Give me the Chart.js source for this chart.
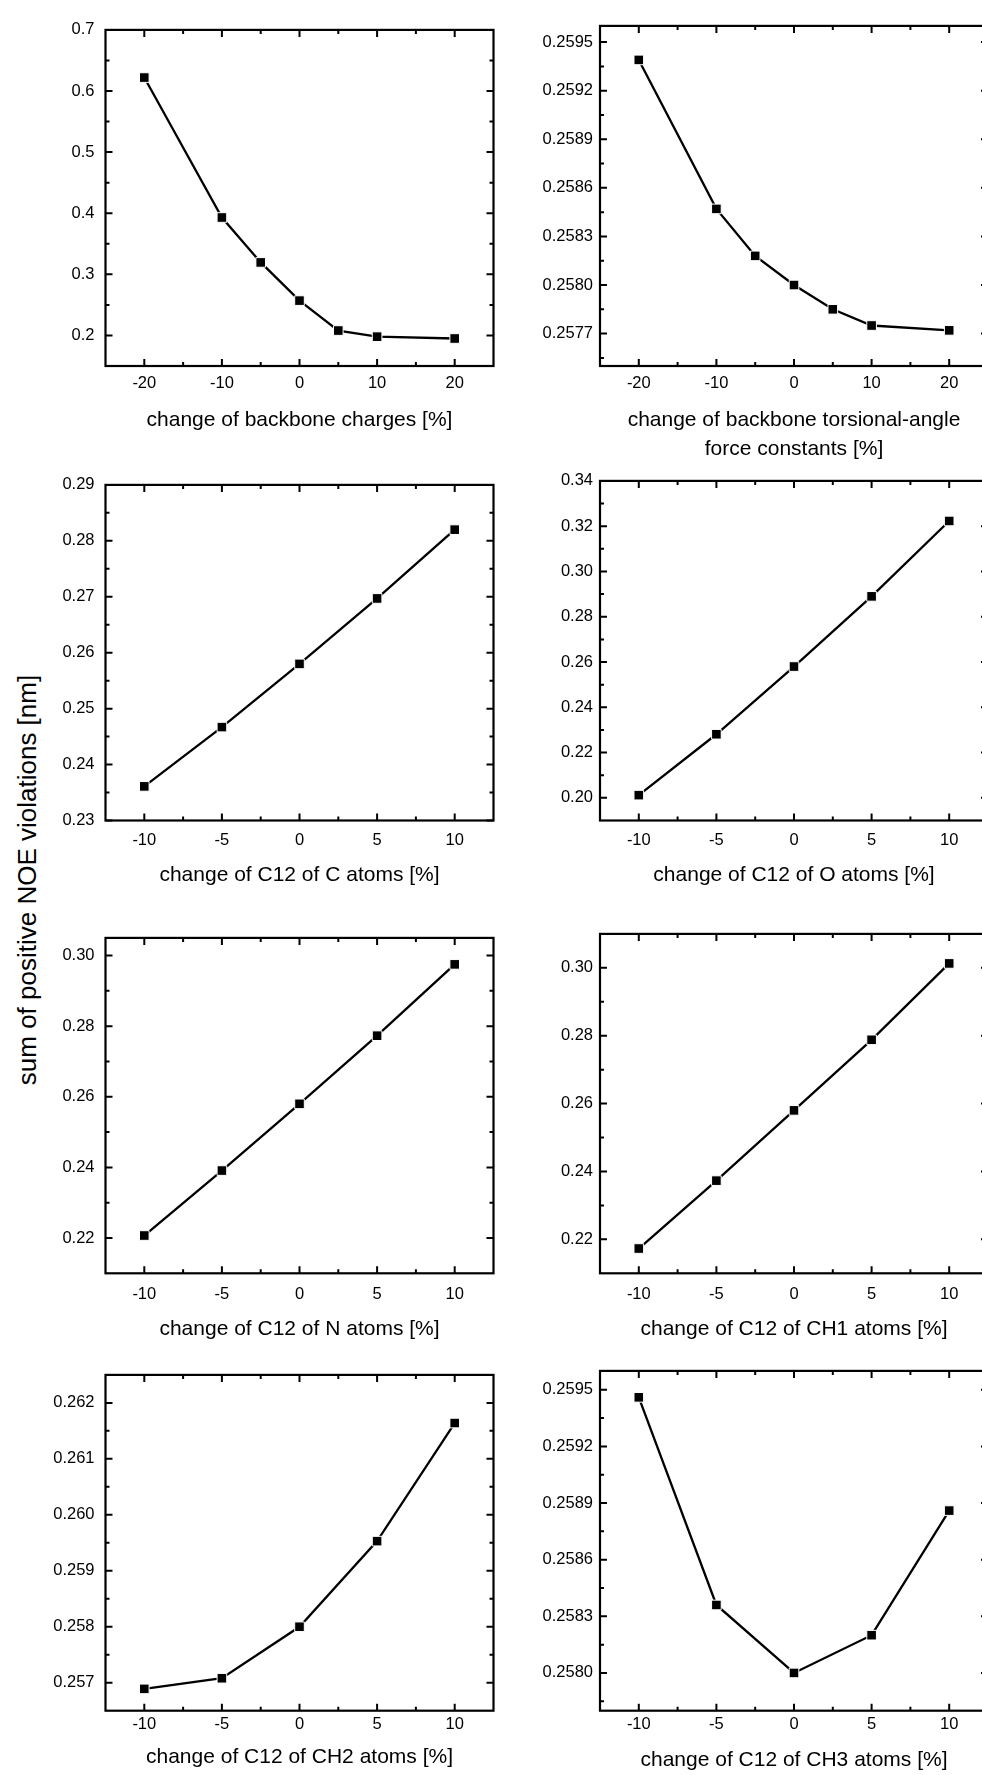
<!DOCTYPE html>
<html>
<head>
<meta charset="utf-8">
<script src="https://cdn.jsdelivr.net/npm/chart.js@4.4.1/dist/chart.umd.min.js"></script>
<style>
  html, body { margin: 0; padding: 0; background: #fff; }
  body { width: 982px; height: 1775px; position: relative; overflow: hidden; font-family: "Liberation Sans", Arial, sans-serif; }
  canvas { position: absolute; }
  #ytitle { position: absolute; left: 27px; top: 880px; transform: translate(-50%, -50%) rotate(-90deg); white-space: nowrap; font-size: 26px; color: #000; }
</style>
</head>
<body>
<div id="ytitle">sum of positive NOE violations [nm]</div>
<script>
// x values: change of the parameter [%]
const changeWide = [-20, -10, -5, 0, 5, 10, 20];
const changeNarrow = [-10, -5, 0, 5, 10];

// sum of positive NOE violations [nm]
const backboneCharges = [0.622, 0.393, 0.3195, 0.257, 0.208, 0.198, 0.195];
const torsionForce = [0.25939, 0.25847, 0.25818, 0.25800, 0.25785, 0.25775, 0.25772];
const c12C = [0.2361, 0.2467, 0.2580, 0.2697, 0.2820];
const c12O = [0.2012, 0.2281, 0.2580, 0.2890, 0.3223];
const c12N = [0.2207, 0.2391, 0.2580, 0.2773, 0.2975];
const c12CH1 = [0.2173, 0.2373, 0.2580, 0.2788, 0.3013];
const c12CH2 = [0.25689, 0.25708, 0.25800, 0.25953, 0.26164];
const c12CH3 = [0.25946, 0.25836, 0.25800, 0.25820, 0.25886];

// tick labels
const xTicksWide = [-20, -10, 0, 10, 20];
const xTicksNarrow = [-10, -5, 0, 5, 10];
const yTicksCharges = [0.2, 0.3, 0.4, 0.5, 0.6, 0.7];
const yTicksTorsion = [0.2577, 0.2580, 0.2583, 0.2586, 0.2589, 0.2592, 0.2595];
const yTicksC = [0.23, 0.24, 0.25, 0.26, 0.27, 0.28, 0.29];
const yTicksO = [0.20, 0.22, 0.24, 0.26, 0.28, 0.30, 0.32, 0.34];
const yTicksN = [0.22, 0.24, 0.26, 0.28, 0.30];
const yTicksCH1 = [0.22, 0.24, 0.26, 0.28, 0.30];
const yTicksCH2 = [0.257, 0.258, 0.259, 0.260, 0.261, 0.262];
const yTicksCH3 = [0.2580, 0.2583, 0.2586, 0.2589, 0.2592, 0.2595];

const FONT = '"Liberation Sans", Arial, Helvetica, sans-serif';
Chart.defaults.font.family = FONT;
Chart.defaults.color = '#000';

// plot-box geometry
const cols = [
    { left: 105.5, right: 493.5, labelGap: 11 },
    { left: 600, right: 988, labelGap: 7 }
];
const rows = [
    { top: 23.3, bottom: 366, tickGap: 7.7, titleOff: 54.7 },
    { top: 478.3, bottom: 820.5, tickGap: 10.4, titleOff: 54.7 },
    { top: 931.7, bottom: 1273.3, tickGap: 11, titleOff: 56 },
    { top: 1368.3, bottom: 1710.7, tickGap: 4, titleOff: 47 }
];

const panels = [
    { row: 0, col: 0, xs: changeWide, ys: backboneCharges, xTicks: xTicksWide, yTicks: yTicksCharges,
      xRange: [-25, 25], yRange: [0.15, 0.7], digits: 1, title: 'change of backbone charges [%]' },
    { row: 0, col: 1, xs: changeWide, ys: torsionForce, xTicks: xTicksWide, yTicks: yTicksTorsion,
      xRange: [-25, 25], yRange: [0.2575, 0.2596], digits: 4,
      title: ['change of backbone torsional-angle', 'force constants [%]'] },
    { row: 1, col: 0, xs: changeNarrow, ys: c12C, xTicks: xTicksNarrow, yTicks: yTicksC,
      xRange: [-12.5, 12.5], yRange: [0.23, 0.29], digits: 2, title: 'change of C12 of C atoms [%]' },
    { row: 1, col: 1, xs: changeNarrow, ys: c12O, xTicks: xTicksNarrow, yTicks: yTicksO,
      xRange: [-12.5, 12.5], yRange: [0.19, 0.34], digits: 2, title: 'change of C12 of O atoms [%]' },
    { row: 2, col: 0, xs: changeNarrow, ys: c12N, xTicks: xTicksNarrow, yTicks: yTicksN,
      xRange: [-12.5, 12.5], yRange: [0.21, 0.305], digits: 2, title: 'change of C12 of N atoms [%]' },
    { row: 2, col: 1, xs: changeNarrow, ys: c12CH1, xTicks: xTicksNarrow, yTicks: yTicksCH1,
      xRange: [-12.5, 12.5], yRange: [0.21, 0.31], digits: 2, title: 'change of C12 of CH1 atoms [%]' },
    { row: 3, col: 0, xs: changeNarrow, ys: c12CH2, xTicks: xTicksNarrow, yTicks: yTicksCH2,
      xRange: [-12.5, 12.5], yRange: [0.2565, 0.2625], digits: 3, title: 'change of C12 of CH2 atoms [%]' },
    { row: 3, col: 1, xs: changeNarrow, ys: c12CH3, xTicks: xTicksNarrow, yTicks: yTicksCH3,
      xRange: [-12.5, 12.5], yRange: [0.2578, 0.2596], digits: 4, title: 'change of C12 of CH3 atoms [%]', titleOff: 50 }
];

// closed frame with inward major/minor ticks on all four sides
function tickMarks(scale) {
    const vals = scale.ticks.map(t => t.value);
    const step = vals[1] - vals[0];
    const eps = step * 0.01;
    const out = vals.map(v => ({ v: v, len: 7 }));
    for (let i = 0; i < vals.length - 1; i++) out.push({ v: (vals[i] + vals[i + 1]) / 2, len: 4 });
    const lo = vals[0] - step / 2, hi = vals[vals.length - 1] + step / 2;
    if (lo > scale.min + eps) out.push({ v: lo, len: 4 });
    if (hi < scale.max - eps) out.push({ v: hi, len: 4 });
    return out;
}

const frameTicks = {
    id: 'frameTicks',
    beforeDatasetsDraw(chart) {
        const { ctx, chartArea: a, scales } = chart;
        ctx.save();
        ctx.strokeStyle = '#000';
        ctx.lineWidth = 2.2;
        ctx.strokeRect(a.left, a.top, a.right - a.left, a.bottom - a.top);
        ctx.lineWidth = 2;
        ctx.beginPath();
        tickMarks(scales.x).forEach(m => {
            const px = scales.x.getPixelForValue(m.v);
            ctx.moveTo(px, a.bottom); ctx.lineTo(px, a.bottom - m.len);
            ctx.moveTo(px, a.top); ctx.lineTo(px, a.top + m.len);
        });
        tickMarks(scales.y).forEach(m => {
            const py = scales.y.getPixelForValue(m.v);
            ctx.moveTo(a.left, py); ctx.lineTo(a.left + m.len, py);
            ctx.moveTo(a.right, py); ctx.lineTo(a.right - m.len, py);
        });
        ctx.stroke();
        ctx.restore();
    }
};

const YW = 100, PT = 14, HX = 100, CW = 505;
const titleLH = 21 * 1.38;

panels.forEach(p => {
    const c = cols[p.col], r = rows[p.row];
    const canvas = document.createElement('canvas');
    const left = Math.floor(c.left - YW);
    const top = Math.floor(r.top - PT);
    const padTop = r.top - top;
    const height = Math.ceil(r.bottom + HX) - top;
    const xHeight = top + height - r.bottom;
    const yWidth = c.left - left;
    const padRight = CW - (c.right - left);
    canvas.width = CW;
    canvas.height = height;
    canvas.style.left = left + 'px';
    canvas.style.top = top + 'px';
    document.body.appendChild(canvas);

    const lines = Array.isArray(p.title) ? p.title.length : 1;
    const titleOff = p.titleOff || r.titleOff;
    const titlePad = xHeight - titleLH / 2 - titleLH * (lines - 1) - titleOff;

    new Chart(canvas, {
        type: 'line',
        data: {
            datasets: [{
                data: p.xs.map((x, i) => ({ x: x, y: p.ys[i] })),
                borderColor: '#000',
                borderWidth: 2.3,
                tension: 0,
                pointStyle: 'rect',
                pointRadius: 6.8,
                pointBackgroundColor: '#000',
                pointBorderColor: '#fff',
                pointBorderWidth: 1,
                clip: false
            }]
        },
        options: {
            responsive: false,
            animation: false,
            events: [],
            layout: { padding: { left: 0, top: padTop, right: padRight, bottom: 0 } },
            plugins: { legend: { display: false }, tooltip: { enabled: false } },
            scales: {
                x: {
                    type: 'linear',
                    position: 'bottom',
                    min: p.xRange[0],
                    max: p.xRange[1],
                    grid: { display: false, drawTicks: false },
                    border: { display: false },
                    afterBuildTicks: s => { s.ticks = p.xTicks.map(v => ({ value: v })); },
                    afterFit: s => { s.height = xHeight; },
                    ticks: {
                        padding: r.tickGap,
                        autoSkip: false,
                        maxRotation: 0,
                        color: '#000',
                        font: { size: 16.5 },
                        callback: v => String(v)
                    },
                    title: {
                        display: true,
                        text: p.title,
                        color: '#000',
                        font: { size: 21, lineHeight: 1.38 },
                        padding: { top: 0, bottom: titlePad }
                    }
                },
                y: {
                    type: 'linear',
                    position: 'left',
                    min: p.yRange[0],
                    max: p.yRange[1],
                    grid: { display: false, drawTicks: false },
                    border: { display: false },
                    afterBuildTicks: s => { s.ticks = p.yTicks.map(v => ({ value: v })); },
                    afterFit: s => { s.width = yWidth; },
                    ticks: {
                        padding: c.labelGap,
                        autoSkip: false,
                        color: '#000',
                        font: { size: 16.5 },
                        callback: v => Number(v).toFixed(p.digits)
                    }
                }
            }
        },
        plugins: [frameTicks]
    });
});
</script>
</body>
</html>
